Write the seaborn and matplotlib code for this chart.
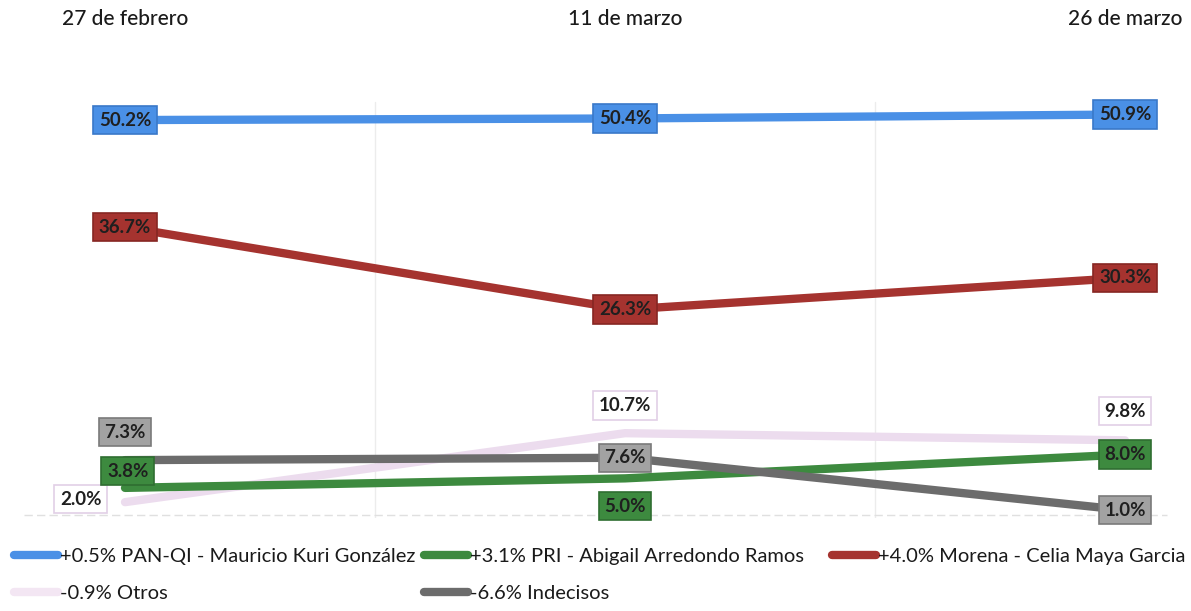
import matplotlib
matplotlib.use("Agg")
import matplotlib.pyplot as plt
import seaborn as sns
import pandas as pd
from matplotlib.lines import Line2D

# ---- data ----
fechas = ["27 de febrero", "11 de marzo", "26 de marzo"]
pan = [50.2, 50.4, 50.9]
pri = [3.8, 5.0, 8.0]
morena = [36.7, 26.3, 30.3]
otros = [2.0, 10.7, 9.8]
indecisos = [7.3, 7.6, 1.0]

series = ["Otros", "PRI", "Indecisos", "Morena", "PAN"]
valores = {"PAN": pan, "PRI": pri, "Morena": morena, "Otros": otros, "Indecisos": indecisos}
etiquetas = {
    "PAN": "+0.5% PAN-QI - Mauricio Kuri González",
    "PRI": "+3.1% PRI - Abigail Arredondo Ramos",
    "Morena": "+4.0% Morena - Celia Maya Garcia",
    "Otros": "-0.9% Otros",
    "Indecisos": "-6.6% Indecisos",
}

# ---- styles ----
colores = {"PAN": "#4a90e6", "PRI": "#3d8a3f", "Morena": "#a5332f",
           "Otros": "#ecdcee", "Indecisos": "#6c6c6c"}
caja = {"PAN": ("#4a90e6", "#3a78c8"), "PRI": ("#3d8a3f", "#2f6e31"),
        "Morena": ("#a5332f", "#862622"), "Otros": ("#ffffff", "#e2cfe6"),
        "Indecisos": ("#a2a2a2", "#7a7a7a")}
# label offsets in points (x, y) for each point
offsets = {
    "PAN": [(0, 0), (0, 0), (0, 0)],
    "Morena": [(0, 0), (0, 0), (0, 0)],
    "PRI": [(2, 12), (0, -20), (0, 0)],
    "Otros": [(-32, 2), (0, 20), (0, 21)],
    "Indecisos": [(0, 20), (0, 0), (0, 0)],
}

sns.set_theme(style="white")
plt.rcParams["font.family"] = ["Lato", "DejaVu Sans"]

rows = []
for s in series:
    for i, v in enumerate(valores[s]):
        rows.append({"pos": i, "valor": v, "serie": s})
df = pd.DataFrame(rows)

fig = plt.figure(figsize=(11.91, 6.11), dpi=100)
H = 611.0
ax = fig.add_axes([0.0, (H - 518) / H, 1.0, (518 - 40) / H])

sns.lineplot(data=df, x="pos", y="valor", hue="serie", hue_order=series,
             palette=colores, lw=6, legend=False, sort=False, ax=ax)

ax.set_xlim(-0.25, 2.132)
ax.set_ylim(0, 60.3)
ax.set_xticks(range(len(fechas)))
ax.set_xticklabels(fechas, fontsize=15, color="#1a1a1a", fontweight="medium")
ax.xaxis.set_ticks_position("top")
ax.tick_params(axis="x", length=0, pad=8)
ax.set_yticks([])
ax.set_xlabel("")
ax.set_ylabel("")
for sp in ax.spines.values():
    sp.set_visible(False)

for xv in (0.5, 1.5):
    ax.axvline(xv, ymin=0.0, ymax=0.87, color="#ececec", lw=1, zorder=0)
ax.axhline(0.35, xmin=0.02, xmax=0.98, color="#e0e0e0", lw=1, ls=(0, (6, 3)), zorder=0)

for s in series:
    fc, ec = caja[s]
    for i, v in enumerate(valores[s]):
        dx, dy = offsets[s][i]
        ax.annotate(f"{v:.1f}%", xy=(i, v), xytext=(dx, dy), textcoords="offset points",
                    ha="center", va="center", fontsize=13.5, fontweight="bold",
                    color="#1f1f1f", zorder=5,
                    bbox=dict(boxstyle="square,pad=0.3", fc=fc, ec=ec, lw=1.2))

def handle(s):
    return Line2D([], [], color=colores[s] if s != "Otros" else "#f3e6f3",
                  lw=6, solid_capstyle="round")

cols = [(["PAN", "Otros"], 14), (["PRI", "Indecisos"], 424), (["Morena"], 832)]
for names, xpx in cols:
    leg = fig.legend([handle(n) for n in names], [etiquetas[n] for n in names],
                     loc="upper left", bbox_to_anchor=(xpx / 1191, 1 - 548 / H),
                     frameon=False, fontsize=14.5, handlelength=2.2,
                     handletextpad=0.1, labelspacing=0.98, borderpad=0,
                     borderaxespad=0)
    for t in leg.get_texts():
        t.set_color("#1a1a1a")

fig.savefig("out.png", dpi=100, facecolor="white")
